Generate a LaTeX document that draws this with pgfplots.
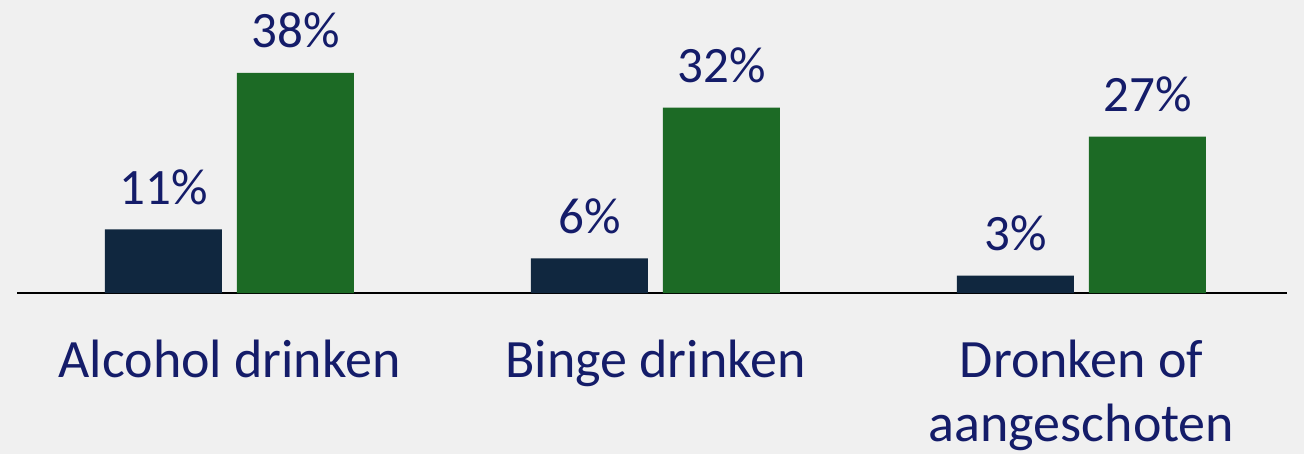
\documentclass[border=0pt]{standalone}
\usepackage{pgfplots}
\pgfplotsset{compat=1.18}
\usepackage{fontspec}
\setmainfont{Carlito}
\definecolor{bg}{HTML}{F0F0F0}
\definecolor{navybar}{HTML}{10273F}
\definecolor{greenbar}{HTML}{1C6A25}
\definecolor{txt}{HTML}{141C69}
\begin{document}
\begin{tikzpicture}
\fill[bg] (-17pt,-161pt) rectangle (1287pt,293pt);
\begin{axis}[
  at={(0,0)}, anchor=south west,
  scale only axis,
  width=1270pt, height=293pt,
  xmin=-0.4988, xmax=2.4824,
  ymin=0, ymax=50.6,
  axis x line*=bottom,
  axis y line=none,
  axis line style={black, line width=2pt, -},
  xtick={0,1,2},
  xticklabels={Alcohol drinken, Binge drinken, {\begin{tabular}[t]{@{}c@{}}Dronken of\\aangeschoten\end{tabular}}},
  major tick length=0pt,
  xticklabel style={font=\fontsize{54}{64}\selectfont, text=txt, anchor=base, yshift=-84pt},
  ybar=15pt,
  bar width=117pt,
  clip=false,
  nodes near coords={\pgfmathprintnumber{\pgfplotspointmeta}\%},
  every node near coord/.append style={font=\fontsize{51}{60}\selectfont, text=txt, anchor=base, yshift=25pt},
  /pgf/number format/assume math mode=true,
]
\addplot[fill=navybar, draw=none] coordinates {(0,11) (1,6) (2,3)};
\addplot[fill=greenbar, draw=none] coordinates {(0,38) (1,32) (2,27)};
\end{axis}
\end{tikzpicture}
\end{document}
